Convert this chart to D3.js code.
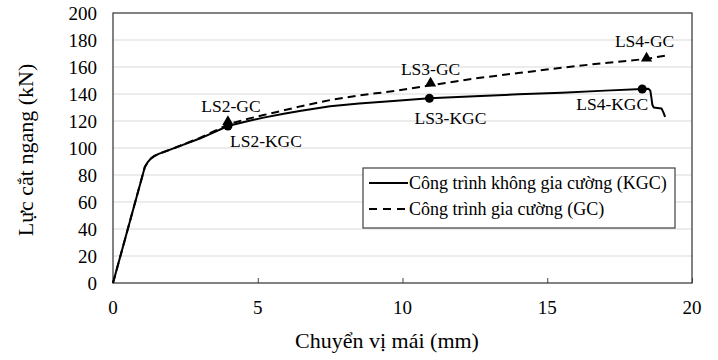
<!DOCTYPE html>
<html>
<head>
<meta charset="utf-8">
<script src="https://cdn.jsdelivr.net/npm/d3@7"></script>
<style>
  body { margin: 0; background: #fff; }
  svg, svg text { font-family: "Liberation Serif", "Times New Roman", serif !important; }
</style>
</head>
<body>
<svg id="chart" width="718" height="360"></svg>
<script>
// roof displacement (mm) vs base shear (kN)
const kgcX = [0, 1.1, 1.2, 1.3, 1.42, 1.6, 2, 3, 3.97, 4.6, 5.2, 5.9, 6.5, 7.5, 8.5, 9.8, 10.93, 12.5, 14, 15.5, 17, 18.28, 18.5, 18.56, 18.6, 18.63, 18.68, 18.8, 18.95, 19.02, 19.07];
const kgcY = [0, 86, 89.5, 92, 94, 95.8, 99, 107, 116.3, 119.6, 122.5, 125.3, 127.6, 131, 133, 135, 136.8, 138.4, 139.8, 141, 142.5, 143.7, 143.8, 142.5, 137, 132, 130, 129.7, 129.2, 126, 123];
const gcX = [0, 1.1, 1.2, 1.3, 1.42, 1.6, 2, 3, 4.04, 4.6, 5.2, 5.9, 6.5, 7.5, 8.5, 9.8, 10.97, 12.5, 14, 15.5, 17, 18.43, 19.2];
const gcY = [0, 86, 89.5, 92, 94, 95.8, 99, 107.5, 118, 121.3, 124.4, 127.9, 131, 135.5, 139, 142.4, 146.5, 151.5, 155.5, 159.5, 163, 166, 168.9];

// limit-state points
const lsNames = ["LS2", "LS3", "LS4"];
const kgcLsX = [3.97, 10.93, 18.28];
const kgcLsY = [116.3, 136.8, 143.7];
const gcLsX = [3.97, 10.97, 18.43];
const gcLsY = [119.5, 148, 166.4];

const xTicks = [0, 5, 10, 15, 20];
const yTicks = [0, 20, 40, 60, 80, 100, 120, 140, 160, 180, 200];
const seriesNames = ["Công trình không gia cường (KGC)", "Công trình gia cường (GC)"];

const serif = "Liberation Serif";
const margin = {left: 113, right: 26, top: 13, bottom: 77};
const W = 718, H = 360;
const svg = d3.select("#chart");

const x = d3.scaleLinear().domain([0, 20]).range([margin.left, W - margin.right]);
const y = d3.scaleLinear().domain([0, 200]).range([H - margin.bottom, margin.top]);

// gridlines
svg.append("g")
   .selectAll("line")
   .data(yTicks.slice(1, -1))
   .join("line")
     .attr("x1", x(0)).attr("x2", x(20))
     .attr("y1", d => y(d)).attr("y2", d => y(d))
     .attr("stroke", "#d9d9d9").attr("stroke-width", 1);

// y axis labels
const yAxis = d3.axisLeft(y).tickValues(yTicks).tickSize(0).tickPadding(16);
svg.append("g")
   .attr("transform", `translate(${x(0)},0)`)
   .call(yAxis)
   .attr("font-family", serif).attr("font-size", 19)
   .call(g => g.select(".domain").remove())
   .call(g => g.selectAll("text").attr("fill", "#000"));

// x axis: inward ticks, labels below
const xAxis = d3.axisTop(x).tickValues(xTicks).tickSize(5).tickFormat("");
svg.append("g")
   .attr("transform", `translate(0,${y(0)})`)
   .call(xAxis)
   .call(g => g.select(".domain").remove())
   .call(g => g.selectAll("line").attr("stroke", "#404040"));
svg.append("g")
   .attr("font-family", serif)
   .selectAll("text")
   .data(xTicks)
   .join("text")
     .attr("x", d => x(d))
     .attr("y", y(0) + 31)
     .attr("text-anchor", "middle")
     .attr("font-size", 19)
     .text(d => d);

// plot frame
svg.append("rect")
   .attr("x", x(0)).attr("y", y(200))
   .attr("width", x(20) - x(0)).attr("height", y(0) - y(200))
   .attr("fill", "none").attr("stroke", "#404040").attr("stroke-width", 1.3);

// curves
const line = d3.line().x(d => x(d[0])).y(d => y(d[1]));
svg.append("path")
   .datum(d3.zip(kgcX, kgcY))
   .attr("d", line)
   .attr("fill", "none").attr("stroke", "#000").attr("stroke-width", 2)
   .attr("stroke-linejoin", "round");
svg.append("path")
   .datum(d3.zip(gcX, gcY))
   .attr("d", line)
   .attr("fill", "none").attr("stroke", "#000").attr("stroke-width", 2)
   .attr("stroke-dasharray", "8,5");

// markers
svg.append("g")
   .selectAll("circle")
   .data(d3.zip(kgcLsX, kgcLsY))
   .join("circle")
     .attr("cx", d => x(d[0])).attr("cy", d => y(d[1]))
     .attr("r", 4.5).attr("fill", "#000");
const tri = d3.symbol().type(d3.symbolTriangle).size(55);
svg.append("g")
   .selectAll("path")
   .data(d3.zip(gcLsX, gcLsY))
   .join("path")
     .attr("transform", d => `translate(${x(d[0])},${y(d[1])})`)
     .attr("d", tri).attr("fill", "#000");

// point labels (offsets in px from the marker)
const gcOff = [[3, -10], [0, -8], [-2, -11]];
const kgcOff = [[38, 21], [21, 26], [-30, 21]];
const lab = svg.append("g").attr("font-family", serif).attr("font-size", 17.5).attr("text-anchor", "middle");
lab.selectAll(".gc")
   .data(lsNames)
   .join("text")
     .attr("class", "gc")
     .attr("x", (d, i) => x(gcLsX[i]) + gcOff[i][0])
     .attr("y", (d, i) => y(gcLsY[i]) + gcOff[i][1])
     .text(d => d + "-GC");
lab.selectAll(".kgc")
   .data(lsNames)
   .join("text")
     .attr("class", "kgc")
     .attr("x", (d, i) => x(kgcLsX[i]) + kgcOff[i][0])
     .attr("y", (d, i) => y(kgcLsY[i]) + kgcOff[i][1])
     .text(d => d + "-KGC");

// legend
const lg = svg.append("g").attr("transform", "translate(363,168)").attr("font-family", serif);
lg.append("rect")
  .attr("width", 312).attr("height", 60)
  .attr("fill", "#fff").attr("stroke", "#404040").attr("stroke-width", 1.2);
seriesNames.forEach((name, i) => {
  const yy = 15 + i * 26;
  lg.append("line")
    .attr("x1", 6).attr("x2", 45).attr("y1", yy).attr("y2", yy)
    .attr("stroke", "#000").attr("stroke-width", 2)
    .attr("stroke-dasharray", i === 1 ? "8,6" : null);
  lg.append("text")
    .attr("x", 46).attr("y", yy + 6)
    .attr("font-size", 18)
    .text(name);
});

// axis titles
svg.append("text")
   .attr("x", 387).attr("y", 348)
   .attr("font-family", serif)
   .attr("text-anchor", "middle").attr("font-size", 22)
   .text("Chuyển vị mái (mm)");
svg.append("text")
   .attr("transform", "translate(33,150) rotate(-90)")
   .attr("font-family", serif)
   .attr("text-anchor", "middle").attr("font-size", 22)
   .text("Lực cắt ngang (kN)");
</script>
</body>
</html>
